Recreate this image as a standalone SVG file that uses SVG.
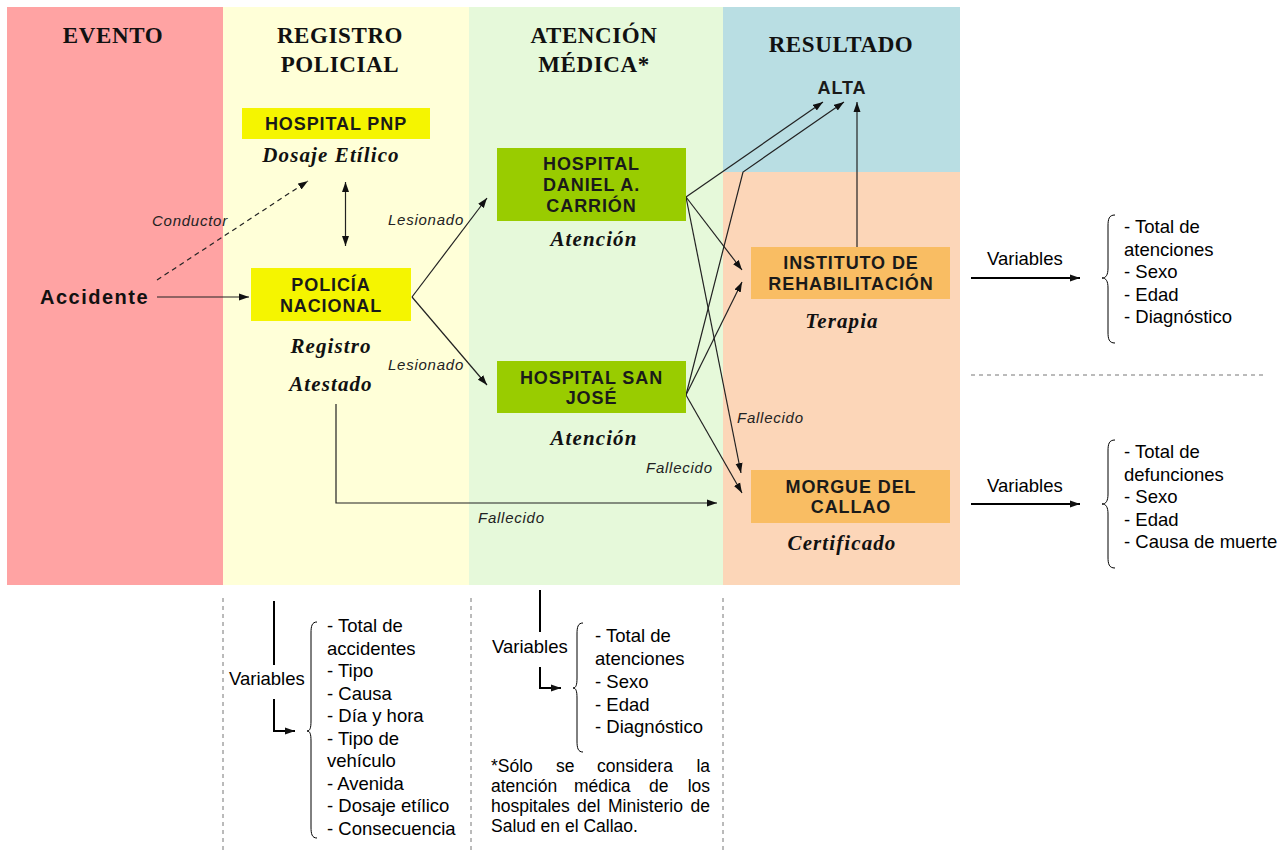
<svg xmlns="http://www.w3.org/2000/svg" width="1287" height="853" viewBox="0 0 1287 853">
<style>
.hdr{font-family:"Liberation Serif","Times New Roman",serif;font-weight:bold;font-size:23px;letter-spacing:0.6px;text-anchor:middle;fill:#111}
.box{font-family:"Liberation Sans",Arial,sans-serif;font-weight:bold;font-size:18px;letter-spacing:0.9px;text-anchor:middle;fill:#1a1a1a}
.sub{font-family:"Liberation Serif","Times New Roman",serif;font-weight:bold;font-style:italic;font-size:21px;letter-spacing:1.1px;text-anchor:middle;fill:#111}
.lbl{font-family:"Liberation Sans",Arial,sans-serif;font-style:italic;font-size:15px;letter-spacing:0.75px;fill:#222}
.lst{font-family:"Liberation Sans",Arial,sans-serif;font-size:18.5px;fill:#000}
.note{font-family:"Liberation Sans",Arial,sans-serif;font-size:17.5px;fill:#000}
.ln{stroke:#222;stroke-width:1.2;fill:none}
.thick{stroke:#000;stroke-width:2;fill:none}
.brace{stroke:#000;stroke-width:1;fill:none}
.dsh{stroke:#777;stroke-width:1;stroke-dasharray:4 4;fill:none}
</style>
<defs>
<marker id="ah" markerUnits="userSpaceOnUse" markerWidth="10" markerHeight="8" refX="10" refY="4" orient="auto-start-reverse">
<path d="M0,0.5 L10,4 L0,7.5 z" fill="#111"/>
</marker>
</defs>
<rect width="1287" height="853" fill="#fff"/>
<g id="background">
<rect x="7" y="7" width="216" height="578" fill="#FFA3A3"/>
<rect x="223" y="7" width="246" height="578" fill="#FFFFD8"/>
<rect x="469" y="7" width="254" height="578" fill="#E6F9DA"/>
<rect x="723" y="7" width="237" height="165" fill="#B9DEE3"/>
<rect x="723" y="172" width="237" height="413" fill="#FCD6B8"/>
</g>
<g id="headers">
<text class="hdr" x="113" y="43">EVENTO</text>
<text class="hdr" x="340" y="43">REGISTRO</text>
<text class="hdr" x="340" y="72">POLICIAL</text>
<text class="hdr" x="594" y="43">ATENCIÓN</text>
<text class="hdr" x="594" y="72">MÉDICA*</text>
<text class="hdr" x="841" y="52">RESULTADO</text>
</g>
<g id="connectors">
<line class="ln" x1="157" y1="297" x2="249" y2="297" marker-end="url(#ah)"/>
<line class="ln" x1="157" y1="280" x2="308" y2="181" stroke-dasharray="5 4" marker-end="url(#ah)"/>
<line class="ln" x1="345.5" y1="182" x2="345.5" y2="246" marker-start="url(#ah)" marker-end="url(#ah)"/>
<line class="ln" x1="412" y1="297" x2="487" y2="198" marker-end="url(#ah)"/>
<line class="ln" x1="412" y1="297" x2="487" y2="385" marker-end="url(#ah)"/>
<line class="ln" x1="686" y1="197" x2="823" y2="102" marker-end="url(#ah)"/>
<line class="ln" x1="686" y1="197" x2="742" y2="270" marker-end="url(#ah)"/>
<line class="ln" x1="686" y1="197" x2="741" y2="473" marker-end="url(#ah)"/>
<polyline class="ln" points="686,395 743,172 844,102" marker-end="url(#ah)"/>
<line class="ln" x1="686" y1="395" x2="742" y2="282" marker-end="url(#ah)"/>
<line class="ln" x1="686" y1="395" x2="742" y2="493" marker-end="url(#ah)"/>
<line class="ln" x1="857" y1="247" x2="857" y2="102" marker-end="url(#ah)"/>
<polyline class="ln" points="336,404 336,503 717,503" marker-end="url(#ah)"/>
<line class="thick" x1="971" y1="278" x2="1080" y2="278" marker-end="url(#ah)"/>
<line class="thick" x1="971" y1="504" x2="1080" y2="504" marker-end="url(#ah)"/>
<line class="thick" x1="274" y1="601" x2="274" y2="665"/>
<polyline class="thick" points="274,699 274,731 295,731" marker-end="url(#ah)"/>
<line class="thick" x1="540" y1="590" x2="540" y2="632"/>
<polyline class="thick" points="540,667 540,688 561,688" marker-end="url(#ah)"/>
<line class="dsh" x1="971" y1="375" x2="1264" y2="375" stroke-dasharray="5 4"/>
<line class="dsh" x1="223" y1="598" x2="223" y2="853"/>
<line class="dsh" x1="471" y1="598" x2="471" y2="853"/>
<line class="dsh" x1="723" y1="598" x2="723" y2="853"/>
</g>
<g id="connector-labels">
<text class="lbl" x="152" y="226">Conductor</text>
<text class="lbl" x="388" y="225">Lesionado</text>
<text class="lbl" x="388" y="370">Lesionado</text>
<text class="lbl" x="737" y="423">Fallecido</text>
<text class="lbl" x="646" y="473">Fallecido</text>
<text class="lbl" x="478" y="523">Fallecido</text>
</g>
<g id="accidente">
<text x="40" y="304" font-family="Liberation Sans, Arial, sans-serif" font-weight="bold" font-size="20" letter-spacing="1.5" fill="#111">Accidente</text>
</g>
<g id="hospital-pnp">
<rect x="242" y="108" width="188" height="31" fill="#F5F500"/>
<text class="box" x="336" y="130">HOSPITAL PNP</text>
<text class="sub" x="331" y="162">Dosaje Etílico</text>
</g>
<g id="policia-nacional">
<rect x="251" y="268" width="160" height="53" fill="#F5F500"/>
<text class="box" x="331" y="291">POLICÍA</text>
<text class="box" x="331" y="312">NACIONAL</text>
<text class="sub" x="331" y="353">Registro</text>
<text class="sub" x="331" y="391">Atestado</text>
</g>
<g id="hospital-carrion">
<rect x="497" y="148" width="189" height="73" fill="#99CC00"/>
<text class="box" x="591.5" y="170">HOSPITAL</text>
<text class="box" x="591.5" y="191">DANIEL A.</text>
<text class="box" x="591.5" y="212">CARRIÓN</text>
<text class="sub" x="594" y="246">Atención</text>
</g>
<g id="hospital-san-jose">
<rect x="497" y="361" width="189" height="52" fill="#99CC00"/>
<text class="box" x="591.5" y="384">HOSPITAL SAN</text>
<text class="box" x="591.5" y="404">JOSÉ</text>
<text class="sub" x="594" y="445">Atención</text>
</g>
<g id="alta">
<text class="box" x="842" y="94">ALTA</text>
</g>
<g id="instituto">
<rect x="751" y="247" width="199" height="52" fill="#F9BD63"/>
<text class="box" x="851" y="269">INSTITUTO DE</text>
<text class="box" x="851" y="290">REHABILITACIÓN</text>
<text class="sub" x="842" y="328">Terapia</text>
</g>
<g id="morgue">
<rect x="751" y="470" width="199" height="53" fill="#F9BD63"/>
<text class="box" x="851" y="493">MORGUE DEL</text>
<text class="box" x="851" y="513">CALLAO</text>
<text class="sub" x="842" y="550">Certificado</text>
</g>
<g id="variables-rehabilitacion">
<text class="lst" x="987" y="265">Variables</text>
<path class="brace" d="M1115,215 C1109,215 1108,219 1108,226 L1108,268 C1108,275 1106,278 1102,278 C1106,278 1108,281 1108,288 L1108,332 C1108,339 1109,343 1115,343"/>
<text class="lst" x="1124" y="233">- Total de</text>
<text class="lst" x="1124" y="255.5">atenciones</text>
<text class="lst" x="1124" y="278">- Sexo</text>
<text class="lst" x="1124" y="300.5">- Edad</text>
<text class="lst" x="1124" y="323">- Diagnóstico</text>
</g>
<g id="variables-morgue">
<text class="lst" x="987" y="492">Variables</text>
<path class="brace" d="M1115,440 C1109,440 1108,444 1108,451 L1108,494 C1108,501 1106,504 1102,504 C1106,504 1108,507 1108,514 L1108,557 C1108,564 1109,568 1115,568"/>
<text class="lst" x="1124" y="458">- Total de</text>
<text class="lst" x="1124" y="480.5">defunciones</text>
<text class="lst" x="1124" y="503">- Sexo</text>
<text class="lst" x="1124" y="525.5">- Edad</text>
<text class="lst" x="1124" y="548">- Causa de muerte</text>
</g>
<g id="variables-registro">
<text class="lst" x="229" y="685">Variables</text>
<path class="brace" d="M317,622 C312,622 311,626 311,633 L311,721 C311,728 310,731 307,731 C310,731 311,734 311,741 L311,827 C311,834 312,838 317,838"/>
<text class="lst" x="327" y="632">- Total de</text>
<text class="lst" x="327" y="654.5">accidentes</text>
<text class="lst" x="327" y="677">- Tipo</text>
<text class="lst" x="327" y="699.5">- Causa</text>
<text class="lst" x="327" y="722">- Día y hora</text>
<text class="lst" x="327" y="744.5">- Tipo de</text>
<text class="lst" x="327" y="767">vehículo</text>
<text class="lst" x="327" y="789.5">- Avenida</text>
<text class="lst" x="327" y="812">- Dosaje etílico</text>
<text class="lst" x="327" y="834.5">- Consecuencia</text>
</g>
<g id="variables-atencion">
<text class="lst" x="492" y="653">Variables</text>
<path class="brace" d="M583,623 C578,623 577,627 577,634 L577,678 C577,685 576,688 573,688 C576,688 577,691 577,698 L577,741 C577,748 578,752 583,752"/>
<text class="lst" x="595" y="642">- Total de</text>
<text class="lst" x="595" y="665">atenciones</text>
<text class="lst" x="595" y="688">- Sexo</text>
<text class="lst" x="595" y="710.5">- Edad</text>
<text class="lst" x="595" y="733">- Diagnóstico</text>
</g>
<g id="footnote">
<text class="note" x="491" y="772">*Sólo</text>
<text class="note" x="556" y="772">se</text>
<text class="note" x="597" y="772">considera</text>
<text class="note" x="710" y="772" text-anchor="end">la</text>
<text class="note" x="491" y="792">atención</text>
<text class="note" x="574" y="792">médica</text>
<text class="note" x="649" y="792">de</text>
<text class="note" x="710" y="792" text-anchor="end">los</text>
<text class="note" x="491" y="812">hospitales</text>
<text class="note" x="577" y="812">del</text>
<text class="note" x="608" y="812">Ministerio</text>
<text class="note" x="710" y="812" text-anchor="end">de</text>
<text class="note" x="491" y="832">Salud en el Callao.</text>
</g>
</svg>
